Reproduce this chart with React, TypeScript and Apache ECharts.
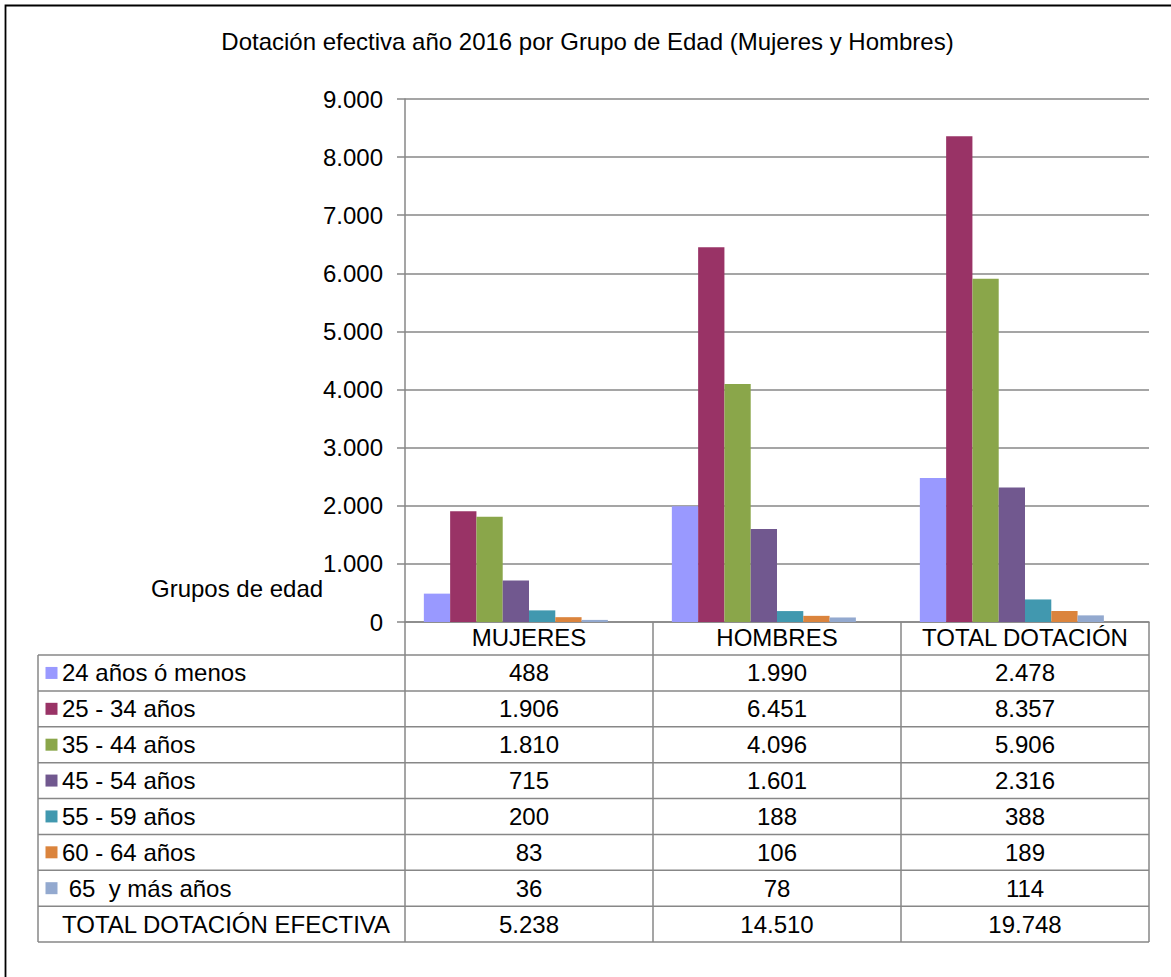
import React, { useEffect, useRef } from "react";
import * as echarts from "echarts";

const chartTitle = "Dotación efectiva año 2016 por Grupo de Edad (Mujeres y Hombres)";
const axisCaption = "Grupos de edad";
const categories = ["MUJERES", "HOMBRES", "TOTAL DOTACIÓN"];
const ageGroups = [
  "24 años ó menos",
  "25 - 34 años",
  "35 - 44 años",
  "45 - 54 años",
  "55 - 59 años",
  "60 - 64 años",
  " 65  y más años",
];
const totalLabel = "TOTAL DOTACIÓN EFECTIVA";
const v24 = [488, 1990, 2478];
const v25to34 = [1906, 6451, 8357];
const v35to44 = [1810, 4096, 5906];
const v45to54 = [715, 1601, 2316];
const v55to59 = [200, 188, 388];
const v60to64 = [83, 106, 189];
const v65plus = [36, 78, 114];
const totals = [5238, 14510, 19748];
const seriesValues = [v24, v25to34, v35to44, v45to54, v55to59, v60to64, v65plus];
const colors = ["#9999FF", "#993366", "#8AA64A", "#71588F", "#4198AF", "#DB843D", "#93A9CF"];
const yMin = 0;
const yMax = 9000;
const yInterval = 1000;

const FONT = '"Liberation Sans", Arial, sans-serif';
const FS = 24;
const GRID_COLOR = "#878787";

function fmt(n: number): string {
  return String(n).replace(/\B(?=(\d{3})+(?!\d))/g, ".");
}

export default function App() {
  const ref = useRef<HTMLDivElement>(null);
  useEffect(() => {
    const chart = echarts.init(ref.current!, null, { renderer: "svg" });
    const series: any[] = seriesValues.map((vals, i) => ({
      name: ageGroups[i],
      type: "bar",
      data: vals,
      barGap: "0%",
      barCategoryGap: "15.2%",
      itemStyle: { color: colors[i] },
    }));
    series.push({
      name: totalLabel,
      type: "bar",
      data: totals,
      barGap: "0%",
      barCategoryGap: "15.2%",
      silent: true,
      itemStyle: { color: "rgba(0,0,0,0)" },
    });
    chart.setOption({
      animation: false,
      textStyle: { fontFamily: FONT },
      grid: { left: 405, right: 22, top: 99, bottom: 355, containLabel: false, outerBoundsMode: "none" },
      xAxis: {
        type: "category",
        data: categories,
        axisLine: { show: true, lineStyle: { color: GRID_COLOR, width: 1.5 } },
        axisTick: { show: false },
        axisLabel: {
          color: "#000",
          fontSize: FS,
          fontFamily: FONT,
          margin: 15,
          verticalAlign: "middle",
          interval: 0,
        },
      },
      yAxis: {
        type: "value",
        min: yMin,
        max: yMax,
        interval: yInterval,
        axisLine: { show: true, lineStyle: { color: GRID_COLOR, width: 1.5 } },
        axisTick: { show: true, length: 8, lineStyle: { color: GRID_COLOR, width: 1.5 } },
        splitLine: { show: true, lineStyle: { color: GRID_COLOR, width: 1.5 } },
        axisLabel: {
          color: "#000",
          fontSize: FS,
          fontFamily: FONT,
          margin: 22,
          formatter: (v: number) => fmt(v),
        },
      },
      series,
    });

    const centers = categories.map((c) => chart.convertToPixel({ xAxisIndex: 0 }, c) as number);
    const band = centers[1] - centers[0];
    const yZero = chart.convertToPixel({ yAxisIndex: 0 }, yMin) as number;
    const axisX = centers[0] - band / 2;
    const rightX = centers[centers.length - 1] + band / 2;
    const tableLeft = 38;
    const headerBottom = yZero + 33;
    const rowH = 35.875;
    const rowLabels = [...ageGroups, totalLabel];
    const rowData = [...seriesValues, totals];
    const tableBottom = headerBottom + rowLabels.length * rowH;
    const lineStyle = { stroke: GRID_COLOR, lineWidth: 1.5 };

    const elements: any[] = [];
    elements.push({
      type: "rect",
      shape: { x: 5.5, y: 5.5, width: 1200, height: 1000 },
      style: { fill: "none", stroke: "#000", lineWidth: 1.8 },
      silent: true,
    });
    elements.push({
      type: "text",
      x: 587.5,
      y: 41,
      style: { text: chartTitle, fill: "#000", font: `${FS}px ${FONT}`, align: "center", verticalAlign: "middle" },
    });
    elements.push({
      type: "text",
      x: 151,
      y: 588,
      style: { text: axisCaption, fill: "#000", font: `${FS}px ${FONT}`, align: "left", verticalAlign: "middle" },
    });
    // horizontal table lines
    for (let r = 0; r <= rowLabels.length; r++) {
      const y = headerBottom + r * rowH;
      elements.push({ type: "line", shape: { x1: tableLeft, y1: y, x2: rightX, y2: y }, style: lineStyle, silent: true });
    }
    // vertical lines
    elements.push({ type: "line", shape: { x1: tableLeft, y1: headerBottom, x2: tableLeft, y2: tableBottom }, style: lineStyle, silent: true });
    for (let c = 0; c <= categories.length; c++) {
      const x = axisX + c * band;
      elements.push({ type: "line", shape: { x1: x, y1: yZero, x2: x, y2: tableBottom }, style: lineStyle, silent: true });
    }
    rowLabels.forEach((label, r) => {
      const cy = headerBottom + r * rowH + rowH / 2;
      if (r < colors.length) {
        elements.push({ type: "rect", shape: { x: 45.5, y: cy - 6, width: 12, height: 12 }, style: { fill: colors[r] } });
      }
      elements.push({
        type: "text",
        x: 62,
        y: cy,
        style: { text: label, fill: "#000", font: `${FS}px ${FONT}`, align: "left", verticalAlign: "middle" },
      });
      rowData[r].forEach((v, c) => {
        elements.push({
          type: "text",
          x: centers[c],
          y: cy,
          style: { text: fmt(v), fill: "#000", font: `${FS}px ${FONT}`, align: "center", verticalAlign: "middle" },
        });
      });
    });
    chart.setOption({ graphic: { elements } });
    return () => chart.dispose();
  }, []);
  return (
    <div
      ref={ref}
      style={{ position: "fixed", left: 0, top: 0, width: 1171, height: 977, background: "#fff" }}
    />
  );
}
